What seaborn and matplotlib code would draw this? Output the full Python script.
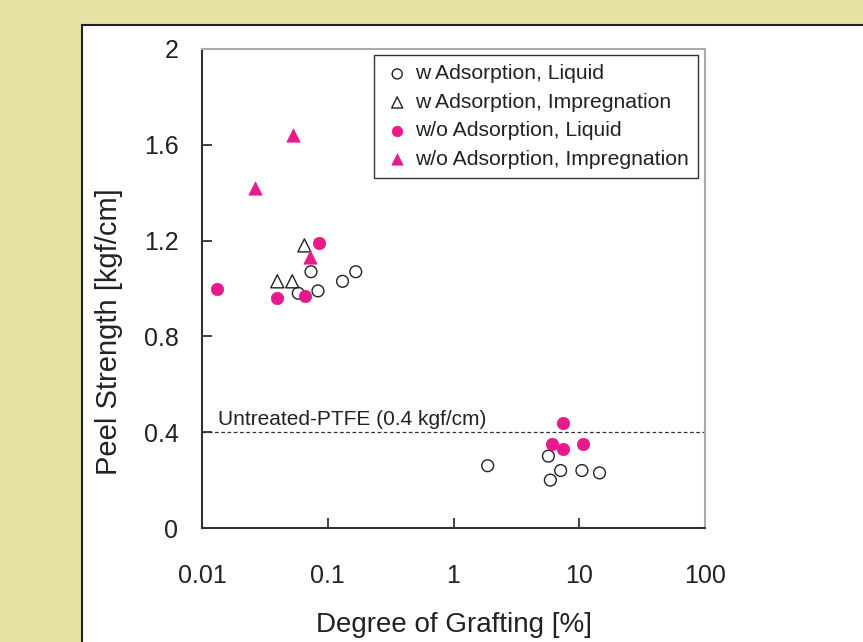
import matplotlib
matplotlib.use("Agg")
import matplotlib.pyplot as plt
from matplotlib.patches import Rectangle
from matplotlib.ticker import FixedLocator, FixedFormatter, NullLocator
import pandas as pd
import seaborn as sns

# Degree of grafting [%] and peel strength [kgf/cm] for each treatment
w_liq_x = [0.0736, 0.0583, 0.0836, 0.131, 0.167, 1.87, 5.68, 7.11, 10.5, 14.5, 5.89]
w_liq_y = [1.07, 0.98, 0.99, 1.03, 1.07, 0.26, 0.30, 0.24, 0.24, 0.23, 0.20]

w_imp_x = [0.0397, 0.0522, 0.0652]
w_imp_y = [1.03, 1.03, 1.18]

wo_liq_x = [0.0132, 0.0393, 0.0656, 0.0848, 6.04, 7.38, 7.38, 10.8]
wo_liq_y = [1.00, 0.96, 0.97, 1.19, 0.35, 0.44, 0.33, 0.35]

wo_imp_x = [0.0264, 0.0526, 0.0723]
wo_imp_y = [1.42, 1.64, 1.13]

series_names = [
    "w Adsorption, Liquid",
    "w Adsorption, Impregnation",
    "w/o Adsorption, Liquid",
    "w/o Adsorption, Impregnation",
]

untreated_value = 0.4
untreated_label = "Untreated-PTFE (0.4 kgf/cm)"

x_ticks = [0.01, 0.1, 1, 10, 100]
x_tick_labels = ["0.01", "0.1", "1", "10", "100"]
y_ticks = [0, 0.4, 0.8, 1.2, 1.6, 2]
y_tick_labels = ["0", "0.4", "0.8", "1.2", "1.6", "2"]

sns.set_style("white")
plt.rcParams["font.family"] = ["Liberation Sans", "DejaVu Sans"]

PINK = "#e8198c"
INK = "#222222"

frames = []
for name, xs, ys in zip(series_names,
                        [w_liq_x, w_imp_x, wo_liq_x, wo_imp_x],
                        [w_liq_y, w_imp_y, wo_liq_y, wo_imp_y]):
    frames.append(pd.DataFrame({"grafting": xs, "peel": ys, "series": name}))
data = pd.concat(frames, ignore_index=True)

styles = {
    series_names[0]: dict(marker="o", s=72, facecolor="none", edgecolor=INK, linewidth=1.0),
    series_names[1]: dict(marker="^", s=88, facecolor="none", edgecolor=INK, linewidth=1.0),
    series_names[2]: dict(marker="o", s=80, facecolor=PINK, edgecolor=PINK, linewidth=0.5),
    series_names[3]: dict(marker="^", s=92, facecolor=PINK, edgecolor=PINK, linewidth=0.5),
}

fig = plt.figure(figsize=(8.63, 6.42), dpi=100)
fig.patch.set_facecolor("#e7e2a4")

# white card behind the plot
card = Rectangle((82 / 863, -0.05), 1.0, 0.05 + (642 - 24.5) / 642,
                 transform=fig.transFigure, facecolor="white",
                 edgecolor=INK, linewidth=1.5, zorder=0)
fig.add_artist(card)

ax = fig.add_axes([202 / 863, 1 - 528 / 642, 503 / 863, 479 / 642])
ax.set_facecolor("white")

for name in series_names:
    sub = data[data["series"] == name]
    sns.scatterplot(data=sub, x="grafting", y="peel", ax=ax, label=name,
                    zorder=3, **styles[name])

ax.axhline(untreated_value, color="#333333", linewidth=0.9,
           linestyle=(0, (3, 2)), zorder=2)
ax.text(0.0134, 0.43, untreated_label, fontsize=15, color="#222222",
        ha="left", va="baseline")

ax.set_xscale("log")
ax.set_xlim(0.01, 100)
ax.set_ylim(0, 2)
ax.xaxis.set_major_locator(FixedLocator(x_ticks))
ax.xaxis.set_major_formatter(FixedFormatter(x_tick_labels))
ax.xaxis.set_minor_locator(NullLocator())
ax.yaxis.set_major_locator(FixedLocator(y_ticks))
ax.yaxis.set_major_formatter(FixedFormatter(y_tick_labels))

ax.tick_params(axis="x", direction="in", length=7, width=1.2, colors=INK,
               labelsize=18, pad=26, bottom=True, top=False)
ax.tick_params(axis="y", direction="in", length=7, width=1.2, colors=INK,
               labelsize=18, pad=17, left=True, right=False)

for side in ("left", "bottom"):
    ax.spines[side].set_color("#333333")
    ax.spines[side].set_linewidth(1.5)
for side in ("top", "right"):
    ax.spines[side].set_color("#aaaaaa")
    ax.spines[side].set_linewidth(1.5)

ax.set_xlabel("Degree of Grafting [%]", fontsize=20, color=INK)
ax.set_ylabel("Peel Strength [kgf/cm]", fontsize=21, color=INK)
ax.xaxis.set_label_coords(0.5, -0.175)
ax.yaxis.set_label_coords(-0.157, 0.409)

leg = ax.legend(loc="upper right", bbox_to_anchor=(0.986, 0.9875),
                borderaxespad=0, fontsize=15.2, frameon=True, fancybox=False,
                framealpha=1, edgecolor="#333333", borderpad=0.45,
                labelspacing=0.45, handlelength=1.28, handletextpad=0.19,
                markerscale=0.85)
leg.get_frame().set_linewidth(1.0)
for t in leg.get_texts():
    t.set_color(INK)

fig.savefig("out.png", dpi=100, facecolor=fig.get_facecolor())
